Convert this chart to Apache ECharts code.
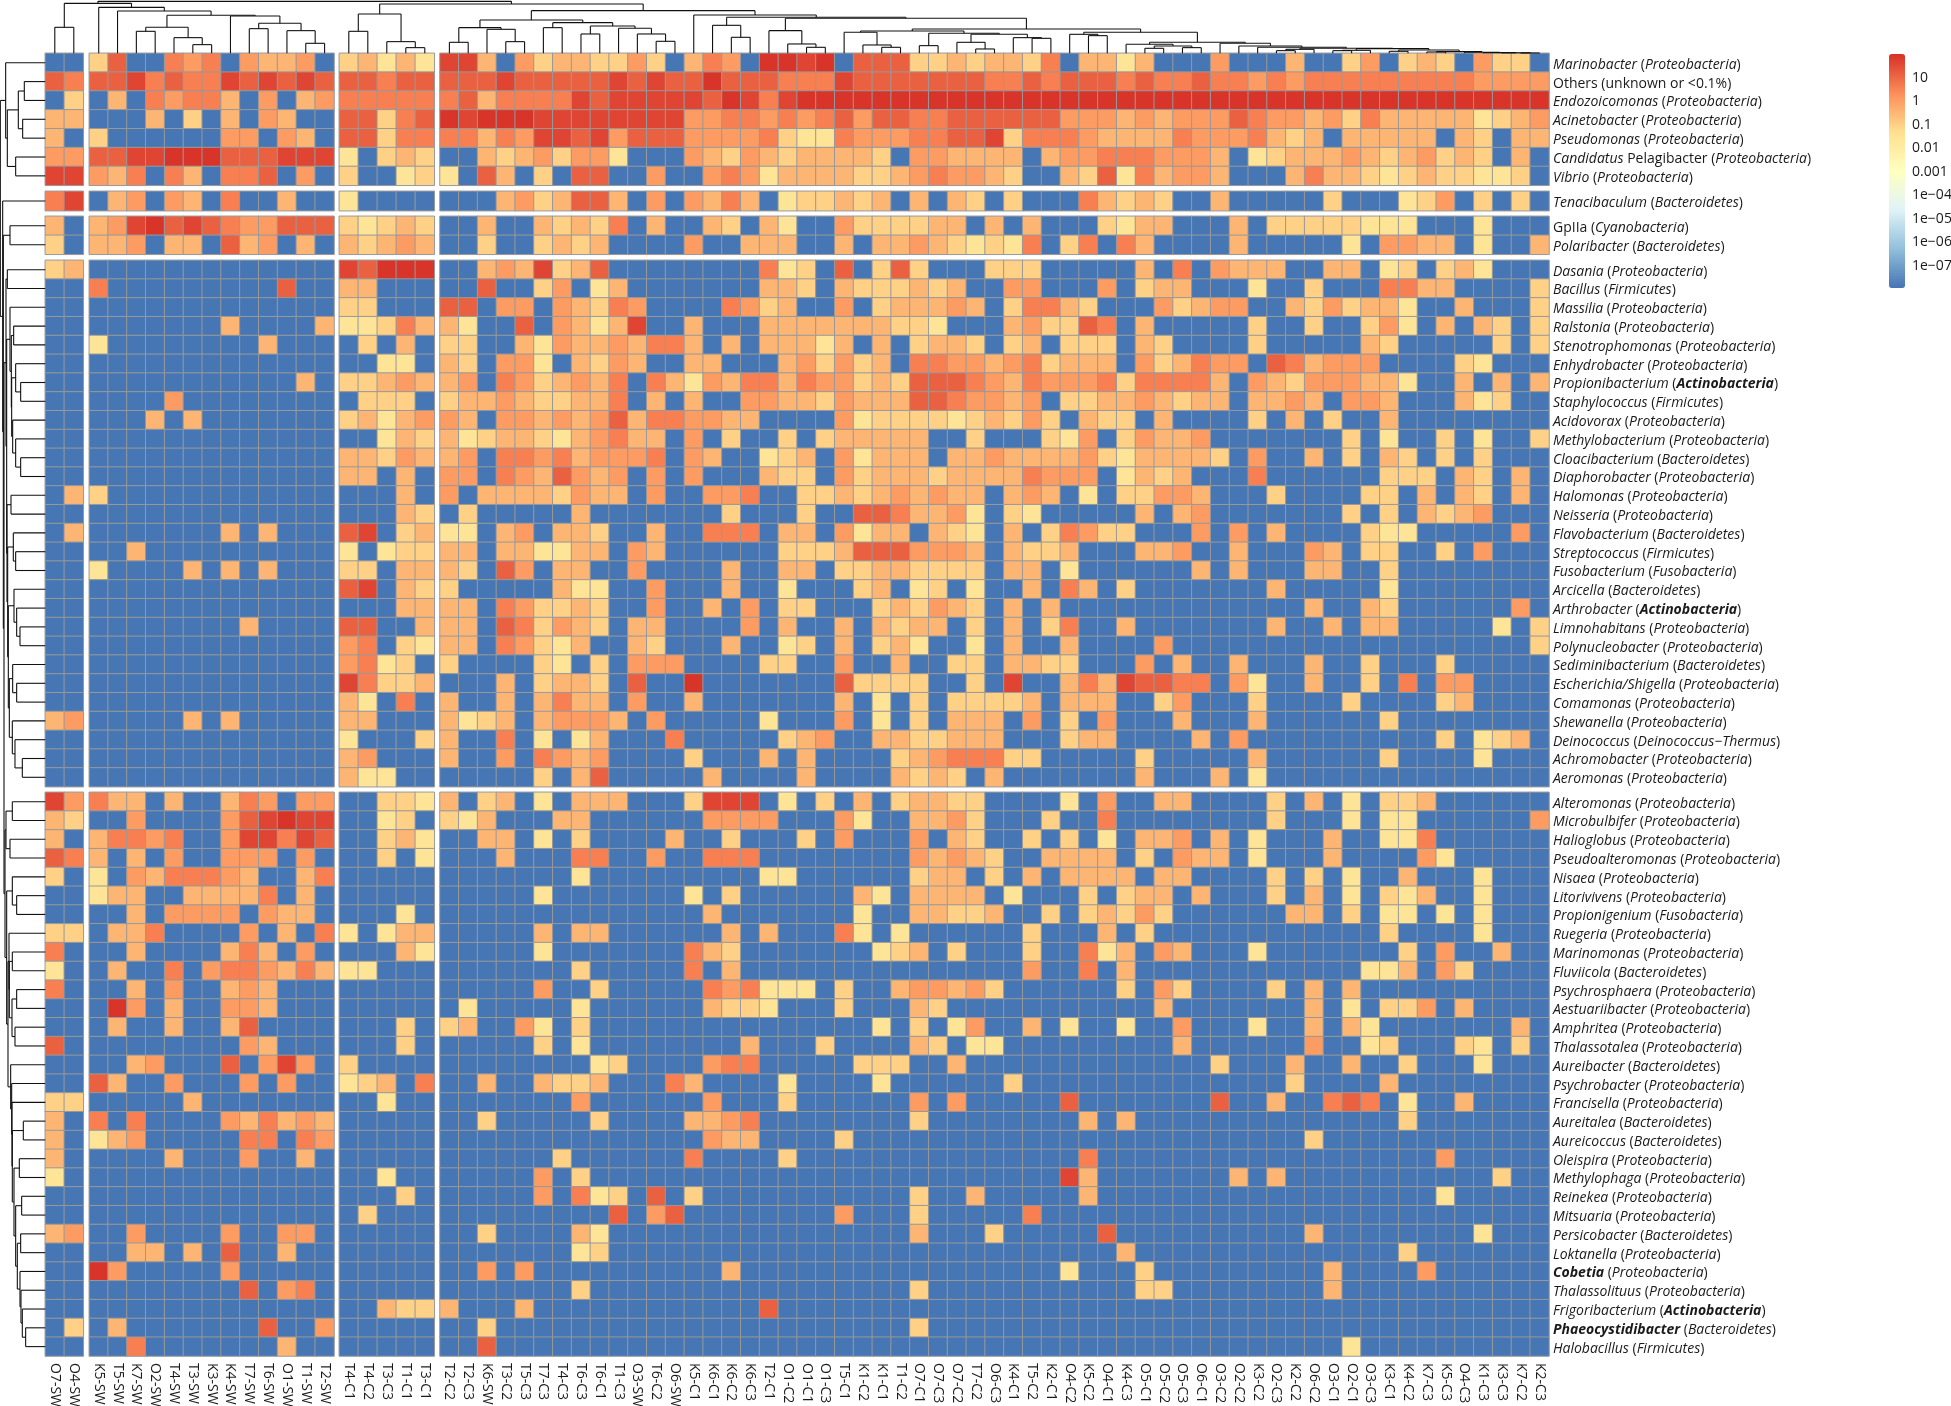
<!DOCTYPE html>
<html>
<head>
<meta charset="utf-8">
<title>Genus heatmap</title>
<style>
  html, body { margin: 0; padding: 0; background: #fff; }
  #chart { width: 1951px; height: 1406px; }
</style>
<script src="https://cdn.jsdelivr.net/npm/echarts@6/dist/echarts.min.js"></script>
</head>
<body>
<div id="chart"></div>
<script>
// column labels, one list per block
var colsA = ['O7-SW', 'O4-SW'];
var colsB = ['K5-SW', 'T5-SW', 'K7-SW', 'O2-SW', 'T4-SW', 'T3-SW', 'K3-SW', 'K4-SW', 'T7-SW', 'T6-SW', 'O1-SW', 'T1-SW', 'T2-SW'];
var colsC = ['T4-C1', 'T4-C2', 'T3-C3', 'T1-C1', 'T3-C1'];
var colsD = ['T2-C2', 'T2-C3', 'K6-SW', 'T3-C2', 'T5-C3', 'T7-C3', 'T4-C3', 'T6-C3', 'T6-C1', 'T1-C3', 'O3-SW', 'T6-C2', 'O6-SW', 'K5-C1', 'K6-C1', 'K6-C2', 'K6-C3', 'T2-C1', 'O1-C2', 'O1-C1', 'O1-C3', 'T5-C1', 'K1-C2', 'K1-C1', 'T1-C2', 'O7-C1', 'O7-C3', 'O7-C2', 'T7-C2', 'O6-C3', 'K4-C1', 'T5-C2', 'K2-C1', 'O4-C2', 'K5-C2', 'O4-C1', 'K4-C3', 'O5-C1', 'O5-C2', 'O5-C3', 'O6-C1', 'O3-C2', 'O2-C2', 'K3-C2', 'O2-C3', 'K2-C2', 'O6-C2', 'O3-C1', 'O2-C1', 'O3-C3', 'K3-C1', 'K4-C2', 'K7-C3', 'K5-C3', 'O4-C3', 'K1-C3', 'K3-C3', 'K7-C2', 'K2-C3'];

// row labels, rich text: i = italic, b = bold italic
var rowsA = ['{i|Marinobacter} ({i|Proteobacteria})', 'Others (unknown or <0.1%)', '{i|Endozoicomonas} ({i|Proteobacteria})', '{i|Acinetobacter} ({i|Proteobacteria})', '{i|Pseudomonas} ({i|Proteobacteria})', '{i|Candidatus} Pelagibacter ({i|Proteobacteria})', '{i|Vibrio} ({i|Proteobacteria})'];
var rowsB = ['{i|Tenacibaculum} ({i|Bacteroidetes})'];
var rowsC = ['GpIIa ({i|Cyanobacteria})', '{i|Polaribacter} ({i|Bacteroidetes})'];
var rowsD = ['{i|Dasania} ({i|Proteobacteria})', '{i|Bacillus} ({i|Firmicutes})', '{i|Massilia} ({i|Proteobacteria})', '{i|Ralstonia} ({i|Proteobacteria})', '{i|Stenotrophomonas} ({i|Proteobacteria})', '{i|Enhydrobacter} ({i|Proteobacteria})', '{i|Propionibacterium} ({b|Actinobacteria})', '{i|Staphylococcus} ({i|Firmicutes})', '{i|Acidovorax} ({i|Proteobacteria})', '{i|Methylobacterium} ({i|Proteobacteria})', '{i|Cloacibacterium} ({i|Bacteroidetes})', '{i|Diaphorobacter} ({i|Proteobacteria})', '{i|Halomonas} ({i|Proteobacteria})', '{i|Neisseria} ({i|Proteobacteria})', '{i|Flavobacterium} ({i|Bacteroidetes})', '{i|Streptococcus} ({i|Firmicutes})', '{i|Fusobacterium} ({i|Fusobacteria})', '{i|Arcicella} ({i|Bacteroidetes})', '{i|Arthrobacter} ({b|Actinobacteria})', '{i|Limnohabitans} ({i|Proteobacteria})', '{i|Polynucleobacter} ({i|Proteobacteria})', '{i|Sediminibacterium} ({i|Bacteroidetes})', '{i|Escherichia/Shigella} ({i|Proteobacteria})', '{i|Comamonas} ({i|Proteobacteria})', '{i|Shewanella} ({i|Proteobacteria})', '{i|Deinococcus} ({i|Deinococcus−Thermus})', '{i|Achromobacter} ({i|Proteobacteria})', '{i|Aeromonas} ({i|Proteobacteria})'];
var rowsE = ['{i|Alteromonas} ({i|Proteobacteria})', '{i|Microbulbifer} ({i|Proteobacteria})', '{i|Halioglobus} ({i|Proteobacteria})', '{i|Pseudoalteromonas} ({i|Proteobacteria})', '{i|Nisaea} ({i|Proteobacteria})', '{i|Litorivivens} ({i|Proteobacteria})', '{i|Propionigenium} ({i|Fusobacteria})', '{i|Ruegeria} ({i|Proteobacteria})', '{i|Marinomonas} ({i|Proteobacteria})', '{i|Fluviicola} ({i|Bacteroidetes})', '{i|Psychrosphaera} ({i|Proteobacteria})', '{i|Aestuariibacter} ({i|Proteobacteria})', '{i|Amphritea} ({i|Proteobacteria})', '{i|Thalassotalea} ({i|Proteobacteria})', '{i|Aureibacter} ({i|Bacteroidetes})', '{i|Psychrobacter} ({i|Proteobacteria})', '{i|Francisella} ({i|Proteobacteria})', '{i|Aureitalea} ({i|Bacteroidetes})', '{i|Aureicoccus} ({i|Bacteroidetes})', '{i|Oleispira} ({i|Proteobacteria})', '{i|Methylophaga} ({i|Proteobacteria})', '{i|Reinekea} ({i|Proteobacteria})', '{i|Mitsuaria} ({i|Proteobacteria})', '{i|Persicobacter} ({i|Bacteroidetes})', '{i|Loktanella} ({i|Proteobacteria})', '{b|Cobetia} ({i|Proteobacteria})', '{i|Thalassolituus} ({i|Proteobacteria})', '{i|Frigoribacterium} ({b|Actinobacteria})', '{b|Phaeocystidibacter} ({i|Bacteroidetes})', '{i|Halobacillus} ({i|Firmicutes})'];

// relative abundance (%) for each digit used in the rows below, 0 = not detected
var abundanceLevels = [1.2e-8, 0.03, 0.1, 0.36, 1.2, 4, 14, 45, 90];

// one string per row, one digit per cell
var cellsA = [
  '00 2600545043340 23131 77304 233224203540887806662232332 503313000400030024023204220',
  '65 6675655767676 66566 66676 666676766866655576666666556 566656556554545555555554444',
  '02 0305455304034 55555 56355 557677777687578888888888888 888888888888888888888888888',
  '33 0003020304300 66256 87888 777777774455454564665566666 644434344465443425333331234',
  '30 2000000440430 66255 55354 776746664444521154445566725 554333354445323033333032033',
  '44 6677888666777 10232 00323 424410004324323333204433330 344555444301233343234232030',
  '77 4350530556040 20012 10630 206600400454133332234544320 032615344300035332123221120'
];
var cellsB = [
  '57 0340430500300 10000 00034 236630404353012232303032020 005323200300000200012402020'
];
var cellsC = [
  '30 3478676544666 21232 00300 323250300320310042222330303 000213300030222221110001000',
  '20 3340330634030 32343 00200 232300004003330030334321215 025053000030000010443301003'
];
var cellsD = [
  '23 0000000000000 76888 00343 723600000000512060262000222 000003050433300330120231000',
  '00 5000000000600 33000 00600 240130000000332032223230044 000402330001002000553300002',
  '00 0000000000000 22000 66044 043254000054230040233343025 532000423440032423310030002',
  '00 0000000300003 11253 31006 043137003000333333322100034 226503000002002002410303202',
  '00 1000000003000 02030 22003 143343553030333130302332023 022203200002000003200000202',
  '00 0000000000000 00110 32044 103243003300034242305544345 233304235440653444000021000',
  '00 0000000000030 22343 34054 234350531435535442326665435 444525555304324443310030303',
  '00 0000400000000 02220 23343 223350303004433243336654434 022334323303343044300031200',
  '00 0003030000000 23134 43044 343463554433000041222212324 203220300002030200300000000',
  '00 0000000000000 00132 31233 213453304020020233333002000 214024334000000020100201002',
  '00 0000000000000 33243 34055 453444504300123041333033433 334213333204003020320202000',
  '00 0000000000000 33030 44054 364340404000322042333233335 444013230005000000222032030',
  '03 2000000000000 00030 40333 324330400445002232343433034 301022443000200002203032030',
  '00 0000000000000 00032 02000 003000000020002006653341021 0000030340 0000002020 3234000',
  '03 0000000303000 67023 11034 033200300555033041330321030 2542200040 4030000211 0000040',
  '00 0030000000000 10122 33033 113304300000022236664443032 2300033400 3000430220 0204000',
  '00 1000030303000 22033 32064 033004000030033022332222033 0100000030 3000330020 0000000',
  '00 0000000000000 67032 20000 031100400030010002301201003 0530200000 0030000010 0000000',
  '00 0000000000000 00033 33054 223200400304022000232432030 30000000000000 3 00 32 000000 40',
  '00 0000000030000 66003 33065 243203300004030030323302030 2500300000 0030030330 0000102',
  '00 0000000000000 45021 33054 213003200030012030231001030 0300004000 0000000000 0000002',
  '00 0000000000000 45120 20000 210204440000220040030022033 2200040300 3000300200 0200000',
  '00 0000000000000 75223 00030 233206008000000062222002070 0353766550 4100300205 0440000',
  '00 0000000000000 31050 30030 353304003000000030102022223 0333002400 0200002000 0230000',
  '34 0000030300000 33000 31230 344430400000100040102033304 0204000300 0300000020 0000000',
  '00 0000000000000 10002 30050 101300050000023400332233300 0233000030 40 000000000 201230',
  '00 0000000000000 34000 30040 543400002000303000023455522 0000020000 03 000000 2 0000 1000',
  '00 0000000000000 31100 00000 203600000300003000032320300 0000030003 01 000000000000000'
];
var cellsE = [
  '74 5330300354044 00221 3023010333 0002777010 2030233220 0001040033 0000203010 223000000',
  '32 0040000467877 00120 2130003300 0000444400 0410033420 0020050000 0000200010 110000004',
  '30 3554500477576 00231 0033010200 0030020002 0400040320 0202010334 0301000300 115000000',
  '65 3030400444040 00201 0003000550 0400555000 0000043432 0033330204 3301000300 004100000',
  '20 1043555430035 00000 0000000100 0000000110 0000023302 0303333033 0000202010 030001000',
  '00 1330033335030 00000 0000010000 0001020000 0031033330 1000202330 3000203010 213001000',
  '00 0030444404330 00010 0000000000 0000300000 0010033223 0020232420 0000033020 110101000',
  '22 0335000040305 10133 0000030330 0000030300 0510100000 0200030200 0000000000 200001000',
  '50 0030000353040 00031 0000010000 0005320000 0001230200 0200513043 0001000000 020400300',
  '10 0300504554353 11000 0000000200 0005030000 0000000000 0400503000 0000000001 130420000',
  '50 0030400343000 00000 0000040020 0000545111 0200344342 0000002042 0000203030 000000000',
  '00 0840300443000 00000 0100000100 0000322100 0200032000 0000000030 0000003010 224030000',
  '00 0300300360000 00020 2300410200 0000000000 0001020140 0301001004 0001003031 000000030',
  '60 0000000043000 00020 0000020100 0000003000 2000032011 0000000003 0000004001 200021020',
  '00 0034000604740 20000 0000000012 0000455000 0022200300 0000000000 0200030030 020001000',
  '00 6300400040400 12305 0030032230 0053000010 0001000000 2000000000 0000020000 300000000',
  '22 0000030000000 00100 0000000400 0000400020 0000040400 0006000000 0600300565 010030000',
  '30 5050000435343 00000 0020000020 0003345000 0000020000 0000303000 0000000000 020000000',
  '30 1340000055054 00000 0000000000 0000433000 0200000000 0000000000 0000002000 000000000',
  '30 0000300040030 00000 0000002000 0005000020 0000000000 0000500000 0000000000 000400000',
  '10 0000000000000 00100 0000040200 0000000000 0000000000 0007300000 0030300000 000000200',
  '00 0000000000000 00020 0000040512 0602000000 0000020030 0000300000 0000000000 000100000',
  '00 0000000000000 02000 0000000006 0460000000 0400020000 0500000000 0000000000 000000000',
  '34 0040000400440 00000 0020000310 0000000000 0000030002 0000060000 0000003000 000001000',
  '00 0033030600300 00000 0000000120 0000000000 0000000000 0000003000 0000000000 020000000',
  '00 8400000400000 00000 0040400000 0000030000 0000000000 0001000200 0000000300 004000000',
  '00 0000000060450 00000 0000000200 0000000000 0000020000 0000000220 0000000300 000000000',
  '00 0000000000000 00322 3000300000 0000000600 0000000000 0000000000 0000000000 000000000',
  '02 0300000006004 00000 0020000000 0000000000 0000020000 0000000000 0000000000 000000000',
  '00 0050000000300 00000 0060000000 0000000000 0000000000 0000000000 0000000010 000000000'
];

// clustering trees: [merge height, left child, right child], a number is a leaf index
var colLadder = [15, [12, [8, 64, 65], 66], [14, [9, [8, 67, 68], 69], [10, [6, 70, 71], [5, [4, 72, 73], [3, 74, [2, 75, [1.5, 76, [1, 77, 78]]]]]]]];
var colRightB = [63, [57, 53, [53, 54, 55]], [33, [27, 56, [22, [15, 57, 58], [17, 59, 60]]], [30, 61, [22, 62, [18, 63, colLadder]]]]];
var colRightA = [67, [63, 41, [25, 42, [18, 43, 44]]], [60, [23, 45, 46], [57, [33, 47, [13, 48, 49]], [47, 50, [45, 51, 52]]]]];
var colRight = [115, 33, [108, [84, 34, [48, 35, 36]], [105, [68, 37, [28, 38, [18, 39, 40]]], [73, colRightA, colRightB]]]];
var colLeft = [100, [77, [33, 20, 21], [72, 22, [35, 23, 24]]], [92, [77, 25, 26], [82, [58, 27, 28], [75, 29, [58, 30, [36, 31, 32]]]]]];
var colSea = [150, [78, 0, 1], [138, 2, [127, 3, [114, [78, [66, 4, 5], [47, 6, [26, 7, 8]]], [112, 9, [90, [74, 10, 11], [68, 12, [30, 13, 14]]]]]]]];
var colCoral = [148, [118, [66, 15, 16], [35, 17, [17, 18, 19]]], [128, colLeft, colRight]];
var colTree = [156, colSea, colCoral];

var rowDTail = [111, [94, 27, [86, 28, [76, 29, 30]]], [108, [98, 31, [86, 32, 33]], [99, 34, [91, 35, [69, 36, 37]]]]];
var rowDMid = [115, [103, 22, 23], [113, [96, 24, [89, 25, 26]], rowDTail]];
var rowDHead = [106, 12, [102, [95, 13, 14], [101, [89, 15, [74, 16, 17]], [98, 18, [89, 19, [74, 20, 21]]]]]];
var rowD = [118, [114, 10, 11], [116, rowDHead, rowDMid]];
var rowETail = [104, 52, [101, 53, [100, 54, [99, [66, 55, 56], [94, [78, 57, 58], [89, [71, 59, 60], [84, [74, 61, 62], [76, 63, [73, 64, [69, 65, [59, 66, 67]]]]]]]]]]];
var rowEMid = [112, [109, 45, [108, [99, 46, 47], [100, [86, 48, 49], [91, 50, 51]]]], rowETail];
var rowE = [121, [118, [99, 38, 39], [106, 40, 41]], [116, [99, 42, [86, 43, 44]], rowEMid]];
var rowTree = [135, [119, 0, [114, [81, [63, 1, 2], [68, 3, 4]], [89, 5, 6]]], [128, 7, [126, [106, 8, 9], [124, rowD, rowE]]]];

var legendLogTicks = [1, 0, -1, -2, -3, -4, -5, -6, -7];
var legendLabels = ['10', '1', '0.1', '0.01', '0.001', '1e−04', '1e−05', '1e−06', '1e−07'];

// block layout in pixels
var colBlocks = [
  { labels: colsA, left: 45.3, width: 38 },
  { labels: colsB, left: 89.3, width: 244.7 },
  { labels: colsC, left: 339.3, width: 95 },
  { labels: colsD, left: 440, width: 1109 }
];
var rowBlocks = [
  { labels: rowsA, cells: cellsA, top: 53.3, height: 132 },
  { labels: rowsB, cells: cellsB, top: 191.3, height: 19.4 },
  { labels: rowsC, cells: cellsC, top: 216.3, height: 38 },
  { labels: rowsD, cells: cellsD, top: 260.3, height: 526.4 },
  { labels: rowsE, cells: cellsE, top: 792.3, height: 563.7 }
];
var heatLeft = 45.3, heatTop = 53.3, heatRight = 1549, heatBottom = 1356;

var grids = [], xAxes = [], yAxes = [], series = [];
var textFont = '"Open Sans", sans-serif';

rowBlocks.forEach(function (rb, r) {
  var rows = rb.cells.map(function (s) {
    var t = s.replace(/ /g, '');
    if (t.length !== 79) throw new Error('bad row ' + s + ' ' + t.length);
    return t;
  });
  var colOffset = 0;
  colBlocks.forEach(function (cb, c) {
    var idx = grids.length;
    grids.push({ left: cb.left, top: rb.top, width: cb.width, height: rb.height, outerBoundsMode: 'none' });
    xAxes.push({
      gridIndex: idx, type: 'category', data: cb.labels, position: 'bottom',
      show: r === rowBlocks.length - 1,
      axisLine: { show: false }, axisTick: { show: false }, splitLine: { show: false }, splitArea: { show: false },
      axisLabel: { interval: 0, rotate: -90, margin: 7, fontSize: 14, color: '#1a1a1a', fontFamily: textFont, hideOverlap: false }
    });
    yAxes.push({
      gridIndex: idx, type: 'category', data: rb.labels, inverse: true, position: 'right',
      show: c === colBlocks.length - 1,
      axisLine: { show: false }, axisTick: { show: false }, splitLine: { show: false }, splitArea: { show: false },
      axisLabel: {
        interval: 0, margin: 4, fontSize: 14, color: '#1a1a1a', fontFamily: textFont, hideOverlap: false,
        padding: [4, 0, 0, 0],
        rich: {
          i: { fontStyle: 'italic', fontSize: 14, color: '#1a1a1a', fontFamily: textFont },
          b: { fontStyle: 'italic', fontWeight: 'bold', fontSize: 14, color: '#1a1a1a', fontFamily: textFont }
        }
      }
    });
    var data = [];
    rows.forEach(function (t, y) {
      cb.labels.forEach(function (lab, x) {
        var level = +t.charAt(colOffset + x);
        data.push([x, y, Math.log10(abundanceLevels[level])]);
      });
    });
    series.push({
      type: 'heatmap', xAxisIndex: idx, yAxisIndex: idx, data: data, progressive: 0, silent: true,
      itemStyle: { borderColor: '#999', borderWidth: 1 },
      emphasis: { disabled: true }
    });
    colOffset += cb.labels.length;
  });
});
var heatCount = series.length;

// leaf centres along each tree axis
var colLeaf = [], rowLeaf = [];
colBlocks.forEach(function (cb) {
  cb.labels.forEach(function (lab, i) {
    colLeaf.push(cb.left - heatLeft + (i + 0.5) * cb.width / cb.labels.length);
  });
});
rowBlocks.forEach(function (rb) {
  rb.labels.forEach(function (lab, i) {
    rowLeaf.push(rb.top - heatTop + (i + 0.5) * rb.height / rb.labels.length);
  });
});

// flatten a tree into [pos1, h1, pos2, h2] segments
function treeSegments(tree, leaf) {
  var segs = [];
  function walk(node) {
    if (typeof node === 'number') return { pos: leaf[node], h: 0 };
    var a = walk(node[1]), b = walk(node[2]), h = node[0];
    segs.push([a.pos, a.h, a.pos, h], [a.pos, h, b.pos, h], [b.pos, b.h, b.pos, h]);
    return { pos: (a.pos + b.pos) / 2, h: h };
  }
  walk(tree);
  return segs;
}

function segmentItem(params, api) {
  var p1 = api.coord([api.value(0), api.value(1)]);
  var p2 = api.coord([api.value(2), api.value(3)]);
  return {
    type: 'line',
    shape: { x1: p1[0], y1: p1[1], x2: p2[0], y2: p2[1] },
    style: { stroke: '#111', lineWidth: 1.1 }
  };
}

// top tree, heights are counted up from the heatmap
var topIdx = grids.length;
grids.push({ left: heatLeft, top: 0, width: heatRight - heatLeft, height: heatTop, outerBoundsMode: 'none' });
xAxes.push({ gridIndex: topIdx, type: 'value', min: 0, max: heatRight - heatLeft, show: false });
yAxes.push({ gridIndex: topIdx, type: 'value', min: 0, max: 160, show: false });
series.push({
  type: 'custom', xAxisIndex: topIdx, yAxisIndex: topIdx, silent: true, clip: false,
  data: treeSegments(colTree, colLeaf), renderItem: segmentItem,
  encode: { x: [0, 2], y: [1, 3] }
});

// left tree, distance runs from the heatmap towards the page edge
var leftIdx = grids.length;
grids.push({ left: 0, top: heatTop, width: heatLeft, height: heatBottom - heatTop, outerBoundsMode: 'none' });
xAxes.push({ gridIndex: leftIdx, type: 'value', min: 0, max: 136, inverse: true, show: false });
yAxes.push({ gridIndex: leftIdx, type: 'value', min: 0, max: heatBottom - heatTop, inverse: true, show: false });
series.push({
  type: 'custom', xAxisIndex: leftIdx, yAxisIndex: leftIdx, silent: true, clip: false,
  data: treeSegments(rowTree, rowLeaf).map(function (s) { return [s[1], s[0], s[3], s[2]]; }),
  renderItem: segmentItem,
  encode: { x: [0, 2], y: [1, 3] }
});

// colour bar tick labels
var barIdx = grids.length;
grids.push({ left: 1889, top: 54, width: 16, height: 234, outerBoundsMode: 'none' });
xAxes.push({ gridIndex: barIdx, type: 'value', show: false });
yAxes.push({
  gridIndex: barIdx, type: 'value', min: -7.94, max: 2.02, position: 'right',
  axisLine: { show: false }, axisTick: { show: false }, splitLine: { show: false },
  axisLabel: {
    customValues: legendLogTicks, margin: 7, fontSize: 14, color: '#1a1a1a', fontFamily: textFont,
    formatter: function (v) { return legendLabels[legendLogTicks.indexOf(v)]; }
  }
});

var chart = echarts.init(document.getElementById('chart'), null, { renderer: 'canvas' });
var option = {
  backgroundColor: '#fff',
  animation: false,
  grid: grids,
  xAxis: xAxes,
  yAxis: yAxes,
  visualMap: {
    type: 'continuous',
    min: -7.94, max: 2.02,
    dimension: 2,
    seriesIndex: series.map(function (s, i) { return i; }).slice(0, heatCount),
    calculable: false, realtime: false, hoverLink: false, showLabel: false,
    text: null,
    left: 1889, top: 54, padding: 0,
    itemWidth: 16, itemHeight: 234,
    inRange: { color: ['#4575b4', '#91bfdb', '#e0f3f8', '#ffffbf', '#fee090', '#fc8d59', '#d73027'] }
  },
  series: series
};
chart.setOption(option);
</script>
</body>
</html>
